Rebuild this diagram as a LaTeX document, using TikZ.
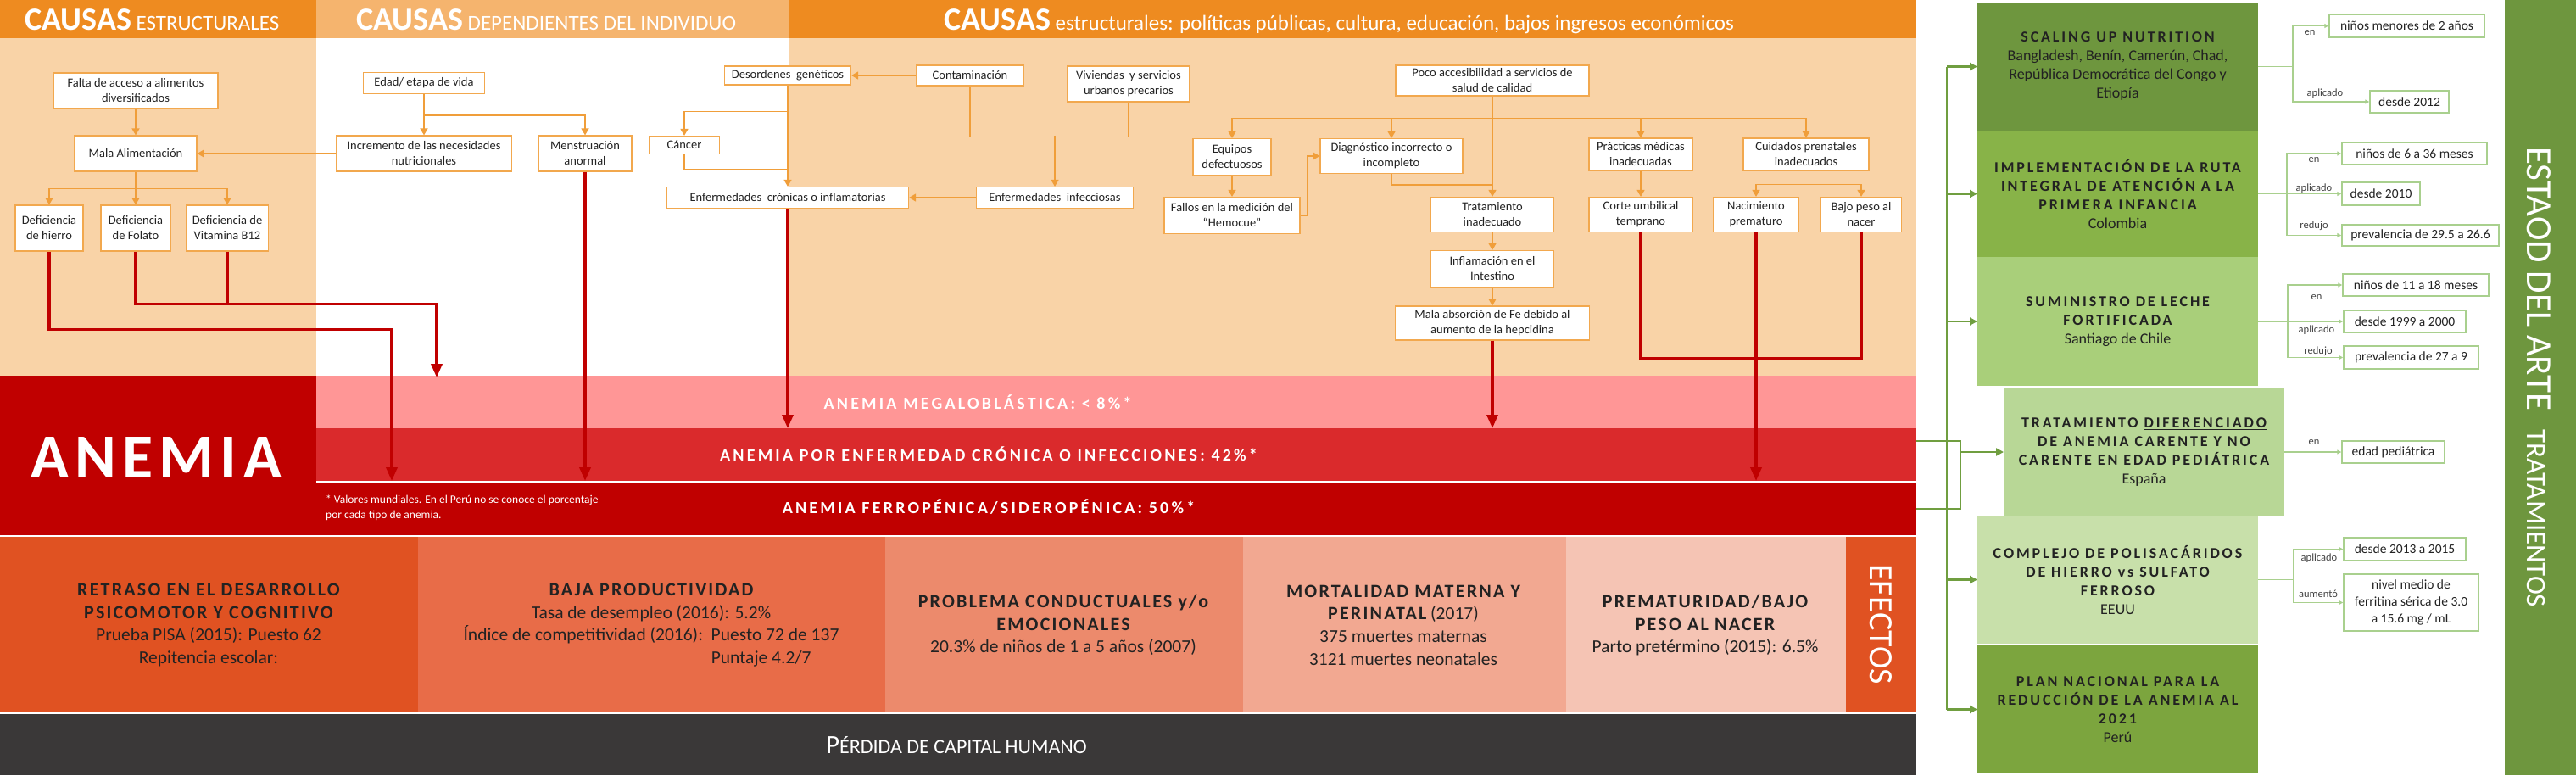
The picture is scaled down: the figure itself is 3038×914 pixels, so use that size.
\documentclass[tikz,border=0pt]{standalone}
\usepackage{fontspec}
\setmainfont{Carlito}
\usetikzlibrary{arrows.meta}
\definecolor{naranja}{RGB}{238,139,32}
\definecolor{naranjaclaro}{RGB}{245,180,110}
\definecolor{durazno}{RGB}{249,211,167}
\definecolor{causaborde}{RGB}{242,168,78}
\definecolor{causalinea}{RGB}{240,158,58}
\definecolor{texto}{RGB}{34,34,34}
\definecolor{rojo}{RGB}{192,0,0}
\definecolor{anemiaosc}{RGB}{192,0,0}
\definecolor{megalo}{RGB}{255,150,150}
\definecolor{cronica}{RGB}{218,42,44}
\definecolor{efectouno}{RGB}{224,82,34}
\definecolor{efectodos}{RGB}{232,108,72}
\definecolor{efectotres}{RGB}{236,138,108}
\definecolor{efectocuatro}{RGB}{242,168,145}
\definecolor{efectocinco}{RGB}{245,196,180}
\definecolor{gris}{RGB}{58,56,56}
\definecolor{verdeuno}{RGB}{110,150,62}
\definecolor{verdedos}{RGB}{136,179,72}
\definecolor{verdetres}{RGB}{169,207,122}
\definecolor{verdecuatro}{RGB}{184,215,150}
\definecolor{verdecinco}{RGB}{200,224,170}
\definecolor{verdeseis}{RGB}{124,165,62}
\definecolor{verdelinea}{RGB}{112,158,64}
\definecolor{verdeclaro}{RGB}{169,208,142}
\begin{document}
\begin{tikzpicture}[x=1pt,y=-1pt,
  causa/.style={draw=causaborde, line width=1.2pt, fill=white, text=texto, align=center, inner sep=1pt, font=\fontsize{14.5}{18}\selectfont},
  flecha/.style={causalinea, line width=1.5pt, -{Triangle[width=9pt,length=8pt]}},
  linea/.style={causalinea, line width=1.5pt},
  roja/.style={rojo, line width=3.5pt, -{Triangle[width=13pt,length=16pt]}},
  rojalinea/.style={rojo, line width=3.5pt},
  encabezado/.style={anchor=base west, text=white, inner sep=0pt, font=\fontsize{25}{25}\selectfont},
  banda/.style={anchor=base, text=white, inner sep=0pt, font=\fontsize{20}{20}\selectfont\bfseries\addfontfeature{LetterSpace=16}},
  efecto/.style={align=center, text=texto, inner sep=0pt, font=\fontsize{21.5}{26.7}\selectfont},
  tratbox/.style={align=center, text=texto, inner sep=0pt, outer sep=0pt, minimum width=331pt, minimum height=151pt, font=\fontsize{18}{22}\selectfont},
  tronco/.style={verdelinea, line width=2.2pt},
  troncoflecha/.style={verdelinea, line width=2.2pt, -{Triangle[width=9pt,length=9pt]}},
  rama/.style={verdeclaro, line width=1.5pt},
  ramaflecha/.style={verdeclaro, line width=1.5pt, -{Triangle[width=5pt,length=5pt]}},
  nota/.style={draw=verdeclaro, line width=1.5pt, fill=white, text=texto, align=center, inner sep=1pt, font=\fontsize{15.5}{20}\selectfont},
  etiqueta/.style={text=texto!85, inner sep=0pt, font=\fontsize{12.5}{13}\selectfont}
]
\newcommand{\caja}[5]{
  \node[causa, minimum width=#3pt, minimum height=#4pt] (#1) at (#2) {#5};
}
\newcommand{\notaverde}[5]{
  \node[nota, minimum width=#3pt, minimum height=#4pt] (#1) at (#2) {#5};
}
\newcommand{\titef}[1]{{\fontsize{22}{26.7}\selectfont\bfseries\addfontfeature{LetterSpace=10}#1}}
\newcommand{\titder}[1]{{\fontsize{18}{22}\selectfont\bfseries\addfontfeature{LetterSpace=16}#1}}
\useasboundingbox (0,0) rectangle (3038,914);
\fill[white] (0,0) rectangle (3038,914);

% encabezados y fondos
\fill[naranja] (0,0) rectangle (373,45);
\fill[naranjaclaro] (373,0) rectangle (930,45);
\fill[naranja] (930,0) rectangle (2260,45);
\fill[durazno] (0,45) rectangle (373,443);
\fill[durazno] (930,45) rectangle (2260,443);
\node[encabezado] (enc1) at (29,35) {{\fontsize{38}{38}\selectfont\bfseries CAUSAS} ESTRUCTURALES};
\node[encabezado] (enc2) at (420,35) {{\fontsize{38}{38}\selectfont\bfseries CAUSAS} DEPENDIENTES DEL INDIVIDUO};
\node[encabezado] (enc3) at (1113,35) {{\fontsize{38}{38}\selectfont\bfseries CAUSAS} estructurales: políticas públicas, cultura, educación, bajos ingresos económicos};

% causas estructurales
\caja{falta}{160,107}{194}{42}{Falta de acceso a alimentos\\diversificados}
\caja{mala}{160,181}{144}{42}{Mala Alimentación}
\caja{hierro}{58,269}{80}{54}{Deficiencia\\de hierro}
\caja{folato}{160,269}{82}{54}{Deficiencia\\de Folato}
\caja{vitb}{268,269}{97}{54}{Deficiencia de\\Vitamina B12}
% causas dependientes del individuo
\caja{edad}{500,98}{143}{25}{Edad/ etapa de vida}
\caja{incremento}{500,181}{207}{42}{Incremento de las necesidades\\nutricionales}
\caja{menstruacion}{690,181}{110}{42}{Menstruación\\anormal}
\caja{cancer}{807,171}{83}{21}{Cáncer}
\caja{desordenes}{929,89}{149}{22}{Desordenes\ \ genéticos}
\caja{enfcronicas}{929,233}{285}{25}{Enfermedades\ \ crónicas o inflamatorias}
% causas estructurales: politicas, cultura...
\caja{contaminacion}{1144,89}{127}{24}{Contaminación}
\caja{viviendas}{1331,99}{144}{42}{Viviendas\ \ y servicios\\urbanos precarios}
\caja{enfinfecciosas}{1244,233}{185}{25}{Enfermedades\ \ infecciosas}
\caja{poco}{1760,95}{228}{36}{Poco accesibilidad a servicios de\\salud de calidad}
\caja{equipos}{1453,185}{92}{43}{Equipos\\defectuosos}
\caja{diagnostico}{1641,184}{168}{41}{Diagnóstico incorrecto o\\incompleto}
\caja{practicas}{1935,182}{122}{38}{Prácticas médicas\\inadecuadas}
\caja{cuidados}{2130,182}{148}{38}{Cuidados prenatales\\inadecuados}
\caja{fallos}{1453,254}{160}{43}{Fallos en la medición del\\“Hemocue”}
\caja{tratamiento}{1760,253}{145}{41}{Tratamiento\\inadecuado}
\caja{inflamacion}{1760,317}{145}{43}{Inflamación en el\\Intestino}
\caja{absorcion}{1760,381}{229}{40}{Mala absorción de Fe debido al\\aumento de la hepcidina}
\caja{corte}{1935,253}{122}{41}{Corte umbilical\\temprano}
\caja{nacimiento}{2071,253}{101}{41}{Nacimiento\\prematuro}
\caja{bajopeso}{2195,253}{95}{41}{Bajo peso al\\nacer}

% conectores naranjas
\draw[flecha] (falta) -- (mala);
\draw[flecha] (incremento) -- (mala);
\draw[flecha] (mala.south) -- (folato.north);
\foreach \n in {hierro,vitb}
  \draw[flecha] (mala.south) ++(0,20) -| (\n.north);
\draw[flecha] (edad) -- (incremento);
\draw[flecha] (edad.south) ++(0,25) -| (menstruacion.north);
\draw[flecha] (contaminacion) -- (desordenes);
\draw[flecha] (desordenes) -- (enfcronicas);
\draw[flecha] (desordenes.south) ++(0,31) -| (cancer.north);
\draw[linea] (cancer.south) |- ([yshift=20pt]enfcronicas.north);
\draw[linea] (contaminacion.south) -- ++(0,60) -| (viviendas.south);
\draw[flecha] (enfinfecciosas.north) ++(0,-60) -- (enfinfecciosas.north);
\draw[flecha] (enfinfecciosas) -- (enfcronicas);
\draw[flecha] (poco) -- (tratamiento);
\foreach \n in {equipos,diagnostico,practicas,cuidados}
  \draw[flecha] (poco.south) ++(0,26) -| (\n.north);
\draw[flecha] (equipos) -- (fallos);
\draw[flecha] (fallos.east) -- ++(8,0) |- (diagnostico.west);
\draw[linea] (diagnostico.south) |- ([yshift=14pt]tratamiento.north);
\draw[flecha] (tratamiento) -- (inflamacion);
\draw[flecha] (inflamacion) -- (absorcion);
\draw[flecha] (practicas) -- (corte);
\foreach \n in {nacimiento,bajopeso}
  \draw[flecha] (cuidados.south) ++(0,16) -| (\n.north);

% anemia
\fill[anemiaosc] (0,443) rectangle (373,631);
\fill[megalo] (373,443) rectangle (2260,505);
\fill[cronica] (373,505) rectangle (2260,568);
\fill[anemiaosc] (373,568) rectangle (2260,631);
\draw[white, line width=1.5pt] (373,568) -- (2260,568);
\coordinate (megtop) at (373,445);
\coordinate (crontop) at (373,505);
\coordinate (fertop) at (373,567);
\node[text=white, inner sep=0pt, font=\fontsize{74}{74}\selectfont\bfseries\addfontfeature{LetterSpace=10}] (anemia) at (184,539) {ANEMIA};
\node[banda] (megaloblastica) at (1153,482) {ANEMIA MEGALOBLÁSTICA: < 8\%*};
\node[banda] (cronicainf) at (1166,543) {ANEMIA POR ENFERMEDAD CRÓNICA O INFECCIONES: 42\%*};
\node[banda] (ferropenica) at (1166,605) {ANEMIA FERROPÉNICA/SIDEROPÉNICA: 50\%*};
\node[anchor=north west, align=left, text=white, inner sep=0pt, font=\fontsize{13.5}{18}\selectfont] (valores) at (384,584) {* Valores mundiales. En el Perú no se conoce el porcentaje\\por cada tipo de anemia.};

% conectores rojos hacia los tipos de anemia
\coordinate (fhierro) at (462,567);
\coordinate (mfolato) at (515,445);
\draw[roja] (hierro.south) -- ++(0,92) -| (fhierro);
\draw[roja] (folato.south) -- ++(0,62) -| (mfolato);
\draw[rojalinea] (vitb.south) -- ++(0,62);
\draw[roja] (menstruacion.south) -- (menstruacion.south |- fertop);
\draw[roja] (enfcronicas.south) -- (enfcronicas.south |- crontop);
\draw[roja] (absorcion.south) -- (absorcion.south |- crontop);
\draw[rojalinea] (corte.south) -- ++(0,149) -| (bajopeso.south);
\draw[roja] (nacimiento.south) -- (nacimiento.south |- fertop);

% efectos
\fill[efectouno] (0,633) rectangle (493,839);
\fill[efectodos] (493,633) rectangle (1044,839);
\fill[efectotres] (1044,633) rectangle (1466,839);
\fill[efectocuatro] (1466,633) rectangle (1847,839);
\fill[efectocinco] (1847,633) rectangle (2177,839);
\fill[efectouno] (2177,633) rectangle (2260,839);
\node[efecto] (retraso) at (246,737) {\titef{RETRASO EN EL DESARROLLO}\\\titef{PSICOMOTOR Y COGNITIVO}\\Prueba PISA (2015): Puesto 62\\Repitencia escolar:};
\node[efecto] (productividad) at (768,737) {\titef{BAJA PRODUCTIVIDAD}\\Tasa de desempleo (2016): 5.2\%\\Índice de competitividad (2016):\ \ Puesto 72 de 137\\\hphantom{Índice de competitividad (2016):\ \ }\rlap{Puntaje 4.2/7}\hphantom{Puesto 72 de 137}};
\node[efecto] (conductuales) at (1254,737) {\titef{PROBLEMA CONDUCTUALES y/o}\\\titef{EMOCIONALES}\\20.3\% de niños de 1 a 5 años (2007)};
\node[efecto] (mortalidad) at (1655,737) {\titef{MORTALIDAD MATERNA Y}\\\titef{PERINATAL} (2017)\\375 muertes maternas\\3121 muertes neonatales};
\node[efecto] (prematuridad) at (2011,737) {\titef{PREMATURIDAD/BAJO}\\\titef{PESO AL NACER}\\Parto pretérmino (2015): 6.5\%};
\node[rotate=-90, anchor=base west, text=white, inner sep=0pt, font=\fontsize{40}{40}\selectfont] (efectos) at (2205,665) {EFECTOS};
\fill[gris] (0,842) rectangle (2260,914);
\node[anchor=base, text=white, inner sep=0pt] (perdida) at (1128,888) {{\fontsize{31}{31}\selectfont P}{\fontsize{24}{24}\selectfont ÉRDIDA DE CAPITAL HUMANO}};

% estado del arte: tratamientos
\fill[verdeuno] (2954,0) rectangle (3038,914);
\node[rotate=-90, anchor=base west, text=white, inner sep=0pt, font=\fontsize{43}{43}\selectfont] (estado) at (2980,173) {ESTAOD DEL ARTE\hspace{22pt}{\fontsize{33}{33}\selectfont TRATAMIENTOS}};
\node[tratbox, fill=verdeuno] (scaling) at (2497.5,78.5) {\titder{SCALING UP NUTRITION}\\Bangladesh, Benín, Camerún, Chad,\\República Democrática del Congo y\\Etiopía};
\node[tratbox, fill=verdedos, minimum height=149pt] (implem) at (2497.5,228.5) {\titder{IMPLEMENTACIÓN DE LA RUTA}\\\titder{INTEGRAL DE ATENCIÓN A LA}\\\titder{PRIMERA INFANCIA}\\Colombia};
\node[tratbox, fill=verdetres, minimum height=152pt] (sumin) at (2497.5,379) {\titder{SUMINISTRO DE LECHE}\\\titder{FORTIFICADA}\\Santiago de Chile};
\node[tratbox, fill=verdecuatro, minimum height=150pt] (trat) at (2528.5,533) {\titder{TRATAMIENTO \underline{DIFERENCIADO}}\\\titder{DE ANEMIA CARENTE Y NO}\\\titder{CARENTE EN EDAD PEDIÁTRICA}\\España};
\node[tratbox, fill=verdecinco] (complejo) at (2497.5,683.5) {\titder{COMPLEJO DE POLISACÁRIDOS}\\\titder{DE HIERRO vs SULFATO}\\\titder{FERROSO}\\EEUU};
\node[tratbox, fill=verdeseis] (plan) at (2497.5,836.5) {\titder{PLAN NACIONAL PARA LA}\\\titder{REDUCCIÓN DE LA ANEMIA AL}\\\titder{2021}\\Perú};

% tronco verde desde la anemia
\draw[tronco] ([xshift=-36pt]scaling.west) -- ([xshift=-36pt]plan.west);
\foreach \b in {scaling,implem,sumin,complejo,plan}
  \draw[troncoflecha] ([xshift=-36pt]\b.west) -- (\b.west);
\coordinate (cronder) at (2260,520);
\coordinate (ferder) at (2260,600);
\coordinate (llave) at (2312,520);
\draw[tronco] (cronder) -- (llave) |- (ferder);
\draw[troncoflecha] (llave |- trat.west) -- (trat.west);

% notas de cada tratamiento
\notaverde{nsca}{2838.5,30.5}{183}{27}{niños menores de 2 años}
\notaverde{nscb}{2841.5,120}{93}{26}{desde 2012}
\notaverde{nima}{2847.5,181}{171}{26}{niños de 6 a 36 meses}
\notaverde{nimb}{2808,228.5}{92}{27}{desde 2010}
\notaverde{nimc}{2854.5,277.5}{185}{25}{prevalencia de 29.5 a 26.6}
\notaverde{nsua}{2849,336}{172}{26}{niños de 11 a 18 meses}
\notaverde{nsub}{2836,379}{144}{26}{desde 1999 a 2000}
\notaverde{nsuc}{2843.5,421.5}{159}{27}{prevalencia de 27 a 9}
\notaverde{ntra}{2822.5,533}{121}{26}{edad pediátrica}
\notaverde{ncoa}{2836,647.5}{144}{27}{desde 2013 a 2015}
\notaverde{ncob}{2843.5,710.5}{159}{67}{nivel medio de\\ferritina sérica de 3.0\\a 15.6 mg / mL}
\draw[rama] (scaling.east) -- ++(41,0) coordinate (rsc);
\foreach \n in {nsca,nscb}
  \draw[ramaflecha] (rsc) |- (\n.west);
\draw[rama] (implem.east) -- ++(34,0) coordinate (rim);
\foreach \n in {nima,nimb,nimc}
  \draw[ramaflecha] (rim) |- (\n.west);
\draw[rama] (sumin.east) -- ++(35,0) coordinate (rsu);
\foreach \n in {nsua,nsub,nsuc}
  \draw[ramaflecha] (rsu) |- (\n.west);
\draw[ramaflecha] (trat.east) -- (ntra.west);
\draw[rama] (complejo.east) -- ++(42,0) coordinate (rco);
\foreach \n in {ncoa,ncob}
  \draw[ramaflecha] (rco) |- (\n.west);
\foreach \t/\x/\y in {en/2724/39, aplicado/2742/110, en/2729/189, aplicado/2729/222, redujo/2729/266, en/2732/351, aplicado/2732/389, redujo/2734/414, en/2729/522, aplicado/2735/658, aumentó/2734/700}
  \node[etiqueta] (et-\x-\y) at (\x,\y) {\t};
\end{tikzpicture}
\end{document}
